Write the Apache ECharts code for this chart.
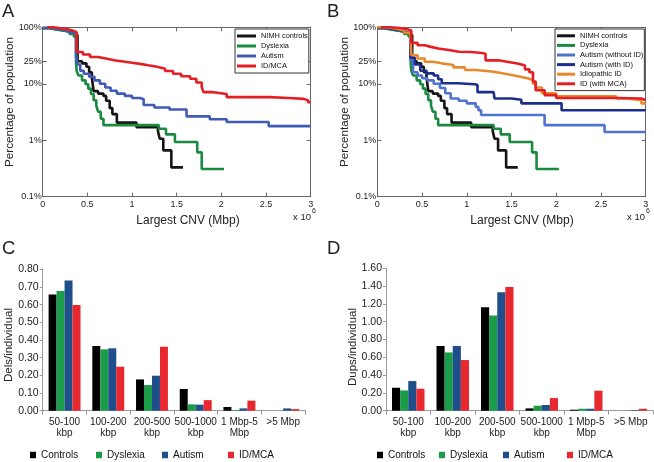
<!DOCTYPE html>
<html><head><meta charset="utf-8">
<script src="https://cdn.jsdelivr.net/npm/echarts@6/dist/echarts.min.js"></script>
<style>html,body{margin:0;padding:0;background:#fff}#c{width:654px;height:462px}</style>
</head><body><div id="c"></div>
<script>
// ---------- Panels A & B: x = largest CNV (units of 10^6 bp), y = % of population ----------
const nimhControls = [[0,97],[0.08,92],[0.16,88],[0.24,84],[0.31,78],[0.36,72],[0.39,25],[0.44,23],[0.49,20],[0.52,16],[0.55,13],[0.57,7.4],[0.62,6.7],[0.68,6.1],[0.71,5.0],[0.75,3.7],[0.78,2.9],[0.83,2.05],[1.05,1.7],[1.29,1.45],[1.31,1.06],[1.35,0.66],[1.44,0.33],[1.57,0.33]];
const dyslexia = [[0,96],[0.07,92],[0.15,88],[0.23,83],[0.3,76],[0.35,68],[0.373,24],[0.38,17],[0.4,14],[0.44,11.5],[0.48,9.8],[0.51,8.2],[0.54,6.6],[0.57,5.1],[0.6,4.1],[0.62,3.2],[0.65,2.4],[0.68,1.85],[1.3,1.6],[1.38,1.27],[1.48,0.93],[1.73,0.61],[1.78,0.31],[2.03,0.31]];
const autism = [[0,97],[0.1,92],[0.2,87],[0.3,80],[0.373,31],[0.39,22],[0.42,17],[0.46,15],[0.52,13.3],[0.58,11.5],[0.64,10],[0.7,8.6],[0.76,7.5],[0.83,6.7],[0.92,6.1],[1.0,5.6],[1.09,5.3],[1.13,4.2],[1.25,3.8],[1.42,3.5],[1.61,2.65],[1.87,2.35],[2.06,2.1],[2.53,1.78],[3.0,1.78]];
const idMca = [[0.05,100],[0.12,96],[0.2,92],[0.28,87],[0.34,82],[0.38,36.5],[0.45,33],[0.53,29.7],[0.62,27.8],[0.72,26],[0.8,24.8],[0.9,23.6],[1.0,22.5],[1.09,21.2],[1.18,20],[1.28,18.5],[1.37,16.8],[1.46,15],[1.55,13.6],[1.65,12.3],[1.72,10.5],[1.78,8.7],[1.8,7.1],[1.91,6.6],[2.06,5.8],[2.54,5.6],[2.75,5.4],[2.92,5.1],[2.97,4.7],[3.0,4.7]];
const autismWithoutID = [[0,97],[0.1,92],[0.2,87],[0.3,80],[0.37,26],[0.4,16],[0.45,14],[0.5,12.5],[0.56,11.5],[0.63,10],[0.7,8.4],[0.76,6.8],[0.82,5.5],[0.91,5.0],[1.0,4.5],[1.1,3.9],[1.13,3.4],[1.16,2.8],[1.84,2.8],[1.87,1.85],[2.51,1.85],[2.54,1.4],[3.0,1.4]];
const autismWithID = [[0,97],[0.1,92],[0.2,87],[0.3,80],[0.37,29],[0.42,22],[0.48,17],[0.55,15.3],[0.63,14],[0.68,12],[0.72,10.2],[0.9,9.8],[1.09,9.5],[1.12,7.1],[1.3,6.6],[1.31,5.5],[1.5,5.2],[1.61,4.5],[2.06,3.4],[3.0,3.4]];
const idiopathicID = [[0,100],[0.1,95],[0.2,88],[0.3,80],[0.37,72],[0.38,32],[0.45,28],[0.53,24.5],[0.62,23],[0.72,21.5],[0.85,19.5],[0.98,17.5],[1.1,16.5],[1.28,15.3],[1.4,14.3],[1.5,13.3],[1.6,12.4],[1.69,11.6],[1.74,10],[1.77,8.6],[1.84,6.8],[2.0,6.0],[2.67,5.5],[2.8,5.1],[2.95,4.5],[3.0,4.5]];
const idWithMca = [[0.04,100],[0.15,97],[0.25,93],[0.33,88],[0.38,53],[0.45,48],[0.53,45],[0.6,42],[0.68,39.5],[0.8,37],[0.91,36.5],[1.05,35],[1.17,34],[1.21,26],[1.35,24.5],[1.45,22.6],[1.58,21],[1.65,18],[1.7,16],[1.74,11],[1.77,7.7],[1.87,6.3],[2.0,5.6],[2.7,5.5],[2.95,5.1],[3.0,5.1]];
const logTickValues = [0.1, 1, 10, 25, 100];

// ---------- Panels C & D ----------
const sizeBins = ['50-100\nkbp','100-200\nkbp','200-500\nkbp','500-1000\nkbp','1 Mbp-5\nMbp','>5 Mbp'];
const delsControls = [0.658,0.366,0.177,0.123,0.021,0];
const delsDyslexia = [0.677,0.347,0.145,0.036,0.004,0];
const delsAutism   = [0.736,0.353,0.198,0.034,0.013,0.013];
const delsIDMCA    = [0.598,0.249,0.362,0.060,0.057,0.009];
const dupsControls = [0.258,0.727,1.161,0.026,0.011,0];
const dupsDyslexia = [0.228,0.655,1.071,0.056,0.022,0];
const dupsAutism   = [0.333,0.727,1.330,0.064,0.022,0.007];
const dupsIDMCA    = [0.247,0.569,1.390,0.142,0.225,0.022];

const FONT = '"Liberation Sans", Arial, Helvetica, sans-serif';
const FRAME = '#666';
const C = {black:'#151515', green:'#1b8a40', blueA:'#3f5bb5', lightBlue:'#4f74cf', darkBlue:'#1c2f8f', red:'#e31e24', orange:'#e8892e',
           barBlack:'#000000', barGreen:'#1a9c48', barBlue:'#1e4f8b', barRed:'#e8272e'};

const chart = echarts.init(document.getElementById('c'), null, {renderer:'canvas'});

function lineX(gi, top) {
  return {type:'value', gridIndex:gi, position: top ? 'top' : 'bottom', min:0, max:3, interval:0.5,
    axisLine:{show:true, onZero:false, lineStyle:{color:FRAME, width:1}},
    axisTick:{show:true, inside:true, length:4, lineStyle:{color:FRAME}},
    axisLabel:{show:!top, fontSize:9, color:'#222', fontFamily:FONT, margin:3, formatter:v=>String(Math.round(v*10)/10)},
    splitLine:{show:false}};
}
function lineY(gi, right) {
  return {type:'log', logBase:10, gridIndex:gi, position: right ? 'right' : 'left', min:0.1, max:100,
    axisLine:{show:true, onZero:false, lineStyle:{color:FRAME, width:1}},
    axisTick:{show:true, inside:true, length:4, customValues:logTickValues, lineStyle:{color:FRAME}},
    axisLabel:{show:!right, fontSize:9, color:'#222', fontFamily:FONT, margin:1, customValues:logTickValues,
      formatter:v=>(Math.round(v*1000)/1000)+'%'},
    minorTick:{show:false}, splitLine:{show:false}};
}
function barX(gi) {
  return {type:'category', gridIndex:gi, data:sizeBins,
    axisLine:{show:true, lineStyle:{color:'#999'}},
    axisTick:{show:true, length:4, lineStyle:{color:'#999'}},
    axisLabel:{interval:0, fontSize:10, lineHeight:11, color:'#222', fontFamily:FONT, margin:6}};
}
function barY(gi, max, interval) {
  return {type:'value', gridIndex:gi, min:0, max:max, interval:interval,
    axisLine:{show:true, lineStyle:{color:'#999'}},
    axisTick:{show:true, length:3, lineStyle:{color:'#999'}},
    axisLabel:{fontSize:10.5, color:'#222', fontFamily:FONT, margin:4, formatter:v=>v.toFixed(2)},
    splitLine:{show:false}};
}
function line(name, data, color, gi) {
  return {name, type:'line', xAxisIndex:gi*2, yAxisIndex:gi*2, data, step:'end', symbol:'none', showSymbol:false,
    lineStyle:{width:2.6, color}, itemStyle:{color}, animation:false};
}
function bar(name, data, color, ai) {
  return {name, type:'bar', xAxisIndex:ai, yAxisIndex:ai, data, barGap:'0%', barCategoryGap:'27%',
    itemStyle:{color}, animation:false};
}
const stripName = n => n.split('|')[1];
function lineLegend(names, left, fs, lh, iw) {
  return {orient:'vertical', left, top:29, data:names, icon:'rect', itemWidth:iw, itemHeight:3, itemGap:0,
    itemTextGap:2, padding:[2,1,2,2], backgroundColor:'#fff', borderColor:'#333', borderWidth:1,
    textStyle:{fontSize:fs, lineHeight:lh, color:'#111', fontFamily:FONT}, formatter:stripName, selectedMode:false};
}
function barLegend(name, left) {
  return {left, top:449, data:[name], icon:'rect', itemWidth:6, itemHeight:6.5, itemTextGap:2, padding:0,
    textStyle:{fontSize:10, lineHeight:12, color:'#111', fontFamily:FONT}, formatter:stripName, selectedMode:false};
}
function txt(text, x, y, fs, opts) {
  return Object.assign({type:'text', x, y, style:{text, fontSize:fs, fontFamily:FONT, fill:'#222',
    textAlign:(opts&&opts.align)||'left', textVerticalAlign:(opts&&opts.va)||'middle'}}, opts&&opts.rot?{rotation:opts.rot}:{});
}

const option = {
  backgroundColor:'#fff',
  animation:false,
  grid:[
    {left:42.7, top:27.3, width:268, height:169.4},
    {left:377.3, top:27.3, width:268.4, height:169.4},
    {left:42.7, top:269.3, width:262.3, height:141.4},
    {left:386, top:268.3, width:267, height:142.4}
  ],
  xAxis:[lineX(0,false), lineX(0,true), lineX(1,false), lineX(1,true), barX(2), barX(3)],
  yAxis:[lineY(0,false), lineY(0,true), lineY(1,false), lineY(1,true), barY(2,0.8,0.1), barY(3,1.6,0.2)],
  legend:[
    lineLegend(['A|NIMH controls','A|Dyslexia','A|Autism','A|ID/MCA'], 235, 7.4, 10, 19),
    lineLegend(['B|NIMH controls','B|Dyslexia','B|Autism (without ID)','B|Autism (with ID)','B|Idiopathic ID','B|ID (with MCA)'], 555, 7.5, 9.6, 18),
    barLegend('C|Controls', 30), barLegend('C|Dyslexia', 96), barLegend('C|Autism', 162), barLegend('C|ID/MCA', 228),
    barLegend('D|Controls', 377), barLegend('D|Dyslexia', 439), barLegend('D|Autism', 503), barLegend('D|ID/MCA', 567)
  ],
  series:[
    line('A|NIMH controls', nimhControls, C.black, 0),
    line('A|Dyslexia', dyslexia, C.green, 0),
    line('A|Autism', autism, C.blueA, 0),
    line('A|ID/MCA', idMca, C.red, 0),
    line('B|NIMH controls', nimhControls, C.black, 1),
    line('B|Dyslexia', dyslexia, C.green, 1),
    line('B|Autism (without ID)', autismWithoutID, C.lightBlue, 1),
    line('B|Autism (with ID)', autismWithID, C.darkBlue, 1),
    line('B|Idiopathic ID', idiopathicID, C.orange, 1),
    line('B|ID (with MCA)', idWithMca, C.red, 1),
    bar('C|Controls', delsControls, C.barBlack, 4),
    bar('C|Dyslexia', delsDyslexia, C.barGreen, 4),
    bar('C|Autism', delsAutism, C.barBlue, 4),
    bar('C|ID/MCA', delsIDMCA, C.barRed, 4),
    bar('D|Controls', dupsControls, C.barBlack, 5),
    bar('D|Dyslexia', dupsDyslexia, C.barGreen, 5),
    bar('D|Autism', dupsAutism, C.barBlue, 5),
    bar('D|ID/MCA', dupsIDMCA, C.barRed, 5)
  ],
  graphic:[
    txt('A', 2, 2, 18.5, {va:'top'}),
    txt('B', 327, 2, 18.5, {va:'top'}),
    txt('C', 2, 239, 18.5, {va:'top'}),
    txt('D', 327, 239, 18.5, {va:'top'}),
    txt('Percentage of population', 10, 102, 11.7, {align:'center', rot:Math.PI/2}),
    txt('Percentage of population', 345, 102, 11.7, {align:'center', rot:Math.PI/2}),
    txt('Largest CNV (Mbp)', 188, 221, 12, {align:'center'}),
    txt('Largest CNV (Mbp)', 522, 221, 12, {align:'center'}),
    txt('x 10', 293, 217, 9.5), txt('6', 312, 211, 7),
    txt('x 10', 627, 217, 9.5), txt('6', 646, 211, 7),
    txt('Dels/individual', 9, 345, 11.5, {align:'center', rot:Math.PI/2}),
    txt('Dups/individual', 353, 347, 11.5, {align:'center', rot:Math.PI/2})
  ]
};
chart.setOption(option);
</script>
</body></html>
